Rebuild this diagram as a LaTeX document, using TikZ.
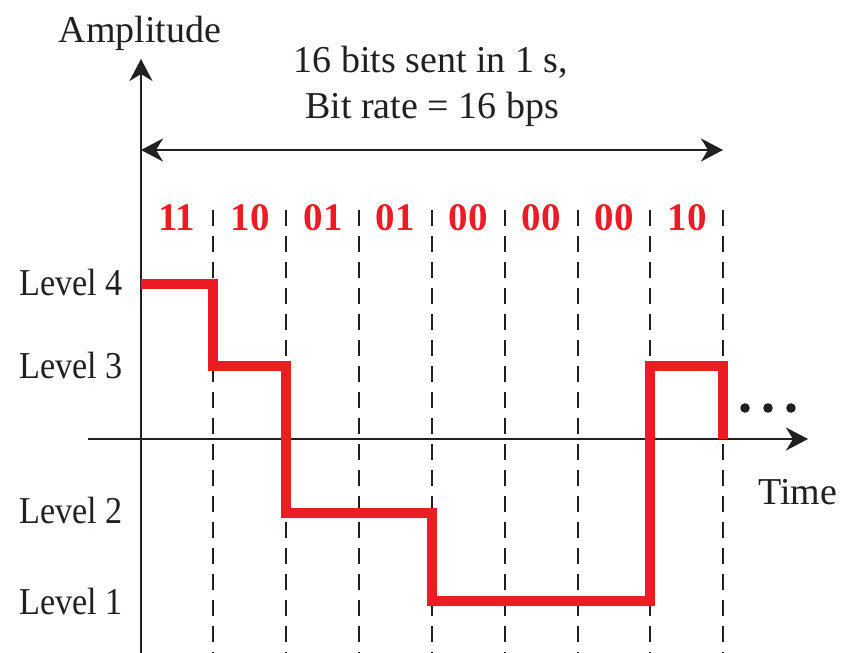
\documentclass[tikz,border=0pt]{standalone}
\usepackage{fontspec}
\setmainfont{Liberation Serif}
\usetikzlibrary{arrows.meta}
\definecolor{sigred}{HTML}{ED1C24}
\definecolor{ink}{HTML}{231F20}
\begin{document}
\begin{tikzpicture}[x=0.5pt,y=-0.5pt,
  tip/.style={-{Stealth[length=11pt,width=11.5pt,inset=3.5pt]}},
  axisline/.style={line width=1.1pt,draw=ink},
  dashline/.style={line width=1.1pt,draw=ink,dash pattern=on 8pt off 5pt},
  signal/.style={line width=5pt,draw=sigred,line join=miter,line cap=butt},
  lbl/.style={font=\fontsize{19}{23}\selectfont,text=ink,inner sep=0pt},
  lvl/.style={lbl,xscale=0.9,anchor=base east},
  bits/.style={font=\fontsize{19.5}{23}\selectfont\bfseries,text=sigred,inner sep=0pt,anchor=base},
  dot/.style={fill=ink}]
\useasboundingbox (0,0) rectangle (847,653);

% axes
\coordinate (ybot) at (141,653);
\coordinate (ytop) at (141,59);
\coordinate (xleft) at (88,439);
\coordinate (xright) at (808,439);
\draw[axisline,tip] (ybot) -- (ytop);
\draw[axisline,tip] (xleft) -- (xright);

% axis labels
\node[lbl,anchor=base] (amp) at (140,42) {Amplitude};
\node[lbl,anchor=base west] (time) at (758,504) {Time};

% title and span arrow
\node[lbl,anchor=base] (t1) at (431,72) {16 bits sent in 1 s,};
\node[lbl,anchor=base] (t2) at (432,118) {Bit rate = 16 bps};
\coordinate (sa) at (141,150);
\coordinate (sb) at (723,150);
\draw[axisline,{Stealth[length=11pt,width=11.5pt,inset=3.5pt]}-{Stealth[length=11pt,width=11.5pt,inset=3.5pt]}] (sa) -- (sb);

% dashed separators
\foreach \x [count=\i] in {213,286,359,432,505,578,650,723} {
  \coordinate (dt\i) at (\x,210);
  \coordinate (db\i) at (\x,653);
  \draw[dashline] (dt\i) -- (db\i);
}

% bit labels
\foreach \b/\x [count=\i] in {11/177,10/250,01/323,01/395,00/468,00/541,00/614,10/687} {
  \node[bits] (b\i) at (\x,230) {\b};
}

% level labels
\node[lvl] (l4) at (123,295) {Level 4};
\node[lvl] (l3) at (123,378) {Level 3};
\node[lvl] (l2) at (123,523) {Level 2};
\node[lvl] (l1) at (123,614) {Level 1};

% signal
\coordinate (s0) at (141,284);
\coordinate (s1) at (213,366);
\coordinate (s2) at (286,513);
\coordinate (s3) at (432,601);
\coordinate (s4) at (650,366);
\coordinate (s5) at (723,439);
\draw[signal] (s0) -| (s1) -| (s2) -| (s3) -| (s4) -| (s5);

% continuation dots
\fill[dot] (745,408) circle[radius=2.4pt];
\fill[dot] (768,408) circle[radius=2.4pt];
\fill[dot] (791,408) circle[radius=2.4pt];
\end{tikzpicture}
\end{document}
